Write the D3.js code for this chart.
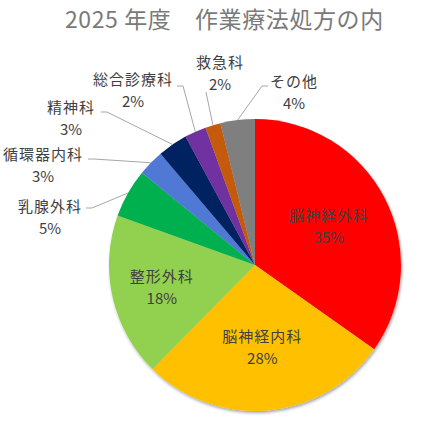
<!DOCTYPE html>
<html>
<head>
<meta charset="utf-8">
<script src="https://cdn.jsdelivr.net/npm/d3@7"></script>
<style>
	body { margin:0; background:#fff; }
	svg { display:block; font-family:"Noto Sans CJK JP", "Noto Sans", sans-serif; }
</style>
</head>
<body>
<svg id="chart" width="429" height="426"></svg>
<script>
// data
var departments = ["脳神経外科","脳神経内科","整形外科","乳腺外科","循環器内科","精神科","総合診療科","救急科","その他"];
var shares      = [34.8, 27.6, 18.1, 5.4, 2.9, 3.3, 2.4, 1.7, 3.8];
var colours     = ["#ff0000","#ffc000","#92d050","#00b050","#4f79d4","#002060","#7030a0","#c55a11","#7f7f7f"];
var titleText   = "2025 年度　作業療法処方の内";

// outer label placement (label centre, leader start) for the small slices
var outerLabels = {
	"乳腺外科":   {x:50,  y:207, lx:86,  ly:208},
	"循環器内科": {x:43,  y:155, lx:88,  ly:159},
	"精神科":     {x:71,  y:108, lx:101, ly:112},
	"総合診療科": {x:133, y:80,  lx:177, ly:86},
	"救急科":     {x:220, y:63,  lx:206, ly:92},
	"その他":     {x:294, y:82,  lx:268, ly:86}
};

var _svg = d3.select("#chart");
var cx = 255, cy = 265, R = 146;
var labelSize = 15;
var lineGap = 22;

var defs = _svg.append("defs");
var shadow = defs.append("filter").attr("id","shadow")
	.attr("x","-10%").attr("y","-10%").attr("width","120%").attr("height","120%");
shadow.append("feDropShadow")
	.attr("dx",1).attr("dy",2).attr("stdDeviation",1.5)
	.attr("flood-color","#000").attr("flood-opacity",0.35);

_svg.append("text")
	.attr("x",65).attr("y",28)
	.attr("font-size",23)
	.attr("letter-spacing",0.6)
	.attr("fill","#7a7a7a")
	.text(titleText);

var rows = departments.map(function(d,i){ return {name:d, value:shares[i], colour:colours[i]}; });

var pie = d3.pie().sort(null).value(function(d){ return d.value; });
var arcs = pie(rows);

var arc = d3.arc().innerRadius(0).outerRadius(R);
var edge = d3.arc().innerRadius(R).outerRadius(R);
var inner = d3.arc().innerRadius(R*0.57).outerRadius(R*0.57);

var g = _svg.append("g").attr("transform","translate("+cx+","+cy+")");

g.append("g").attr("filter","url(#shadow)")
	.selectAll("path").data(arcs).enter().append("path")
	.attr("d",arc)
	.attr("fill",function(d){ return d.data.colour; });

function pct(v) { return Math.round(v) + "%"; }

function twoLines(sel, y0) {
	sel.append("text")
		.attr("text-anchor","middle").attr("y",y0).attr("dy","0.35em")
		.attr("font-size",labelSize).attr("letter-spacing",1).attr("fill","#404040")
		.text(function(d){ return d.data.name; });
	sel.append("text")
		.attr("text-anchor","middle").attr("y",y0+lineGap).attr("dy","0.35em")
		.attr("font-size",labelSize).attr("fill","#404040")
		.text(function(d){ return pct(d.data.value); });
}

// labels inside the big slices
var big = arcs.filter(function(d){ return !outerLabels[d.data.name]; });
var bigLabels = g.selectAll("g.inlabel").data(big).enter().append("g")
	.attr("class","inlabel")
	.attr("transform",function(d){
		var c = inner.centroid(d);
		if(d.data.name === "整形外科") c = [c[0]-12, c[1]+4];
		return "translate("+c[0]+","+c[1]+")";
	});
twoLines(bigLabels, -lineGap/2);

// small slices: outside labels with leader lines
var small = arcs.filter(function(d){ return outerLabels[d.data.name]; });
var overlay = _svg.append("g");
overlay.selectAll("polyline").data(small).enter().append("polyline")
	.attr("fill","none").attr("stroke","#a6a6a6").attr("stroke-width",1)
	.attr("points",function(d){
		var o = outerLabels[d.data.name];
		var e = edge.centroid(d);
		var ex = cx + e[0], ey = cy + e[1];
		var step = (o.lx < ex) ? 6 : -6;
		if(Math.abs(o.lx - ex) < 8) step = 0;
		return [[o.lx,o.ly],[o.lx+step,o.ly],[ex,ey]].join(" ");
	});
var outs = overlay.selectAll("g.outlabel").data(small).enter().append("g")
	.attr("class","outlabel")
	.attr("transform",function(d){
		var o = outerLabels[d.data.name];
		return "translate("+o.x+","+o.y+")";
	});
twoLines(outs, 0);
</script>
</body>
</html>
